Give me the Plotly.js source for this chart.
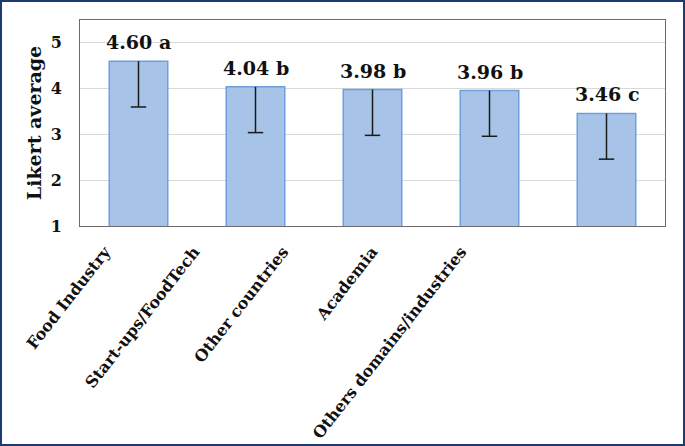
<!DOCTYPE html>
<html>
<head>
<meta charset="utf-8">
<script src="https://cdn.plot.ly/plotly-3.0.1.min.js"></script>
<style>
  html, body { margin: 0; padding: 0; background: #ffffff; }
  #frame { width: 685px; height: 446px; box-sizing: border-box; border: 2px solid #1d3a72; background: #ffffff; }
  #chart { width: 681px; height: 442px; }
</style>
</head>
<body>
<div id="frame"><div id="chart"></div></div>
<script>
// ---- data ----
var categories = ["Food Industry", "Start-ups/FoodTech", "Other countries", "Academia", "Others domains/industries"];
var means = [4.60, 4.04, 3.98, 3.96, 3.46];
var errMinus = [1.0, 1.0, 1.0, 1.0, 1.0];
var letters = ["a", "b", "b", "b", "c"];
var yTicks = [1, 2, 3, 4, 5];

// ---- derived ----
var zeros = means.map(function () { return 0; });
var capY = means.map(function (m, i) { return m - errMinus[i]; });
var labelIdx = categories.map(function (c, i) { return i; });

var serif = "DejaVu Serif, Georgia, serif";

var barTrace = {
  type: "bar",
  x: categories,
  y: means,
  base: 0,
  marker: { color: "#a7c3e7", line: { color: "#6d9fd9", width: 1.5 } },
  error_y: { type: "data", symmetric: false, array: zeros, arrayminus: errMinus, width: 0, color: "#1a1a1a", thickness: 1.5 },
  hoverinfo: "x+y",
  showlegend: false
};

var capTrace = {
  type: "scatter",
  mode: "markers",
  x: categories,
  y: capY,
  marker: { symbol: "line-ew", size: 11, line: { color: "#1a1a1a", width: 1.5 } },
  hoverinfo: "skip",
  showlegend: false
};

var annotations = categories.map(function (c, i) {
  return {
    x: c, y: means[i], xref: "x", yref: "y",
    text: means[i].toFixed(2) + " " + letters[i],
    showarrow: false, yanchor: "bottom", yshift: 6,
    font: { family: serif, size: 19, color: "#111111", weight: "bold" }
  };
});

var layout = {
  width: 681, height: 442,
  margin: { l: 78, r: 18, t: 18, b: 218 },
  paper_bgcolor: "#ffffff",
  plot_bgcolor: "#ffffff",
  bargap: 0.5,
  showlegend: false,
  xaxis: {
    type: "category",
    range: [-0.5, 4.5],
    showticklabels: false,
    ticks: "",
    showline: true, mirror: true, linecolor: "#6b6b6b", linewidth: 1,
    showgrid: false, zeroline: false, fixedrange: true
  },
  xaxis2: {
    overlaying: "x", anchor: "y", side: "bottom",
    type: "linear",
    range: [-0.281, 6.292],
    tickvals: labelIdx,
    ticktext: categories,
    tickangle: -52,
    ticks: "outside", ticklen: 9, tickcolor: "rgba(0,0,0,0)",
    tickfont: { family: serif, size: 16, color: "#111111", weight: "bold" },
    showline: false, showgrid: false, zeroline: false, fixedrange: true
  },
  yaxis: {
    range: [1, 5.5],
    tickvals: yTicks,
    ticks: "outside", ticklen: 14, tickcolor: "rgba(0,0,0,0)",
    tickfont: { family: serif, size: 16, color: "#111111", weight: "bold" },
    showline: true, mirror: true, linecolor: "#6b6b6b", linewidth: 1,
    showgrid: true, gridcolor: "#d9d9d9", gridwidth: 1,
    zeroline: false, fixedrange: true,
    title: { text: "Likert average", standoff: 4, font: { family: serif, size: 19, color: "#111111", weight: "bold" } }
  },
  annotations: annotations
};

// invisible trace so the label axis (xaxis2) is drawn
var axisTrace = {
  type: "scatter", mode: "markers", x: labelIdx, y: means, xaxis: "x2", yaxis: "y",
  marker: { opacity: 0 }, hoverinfo: "skip", showlegend: false
};

Plotly.newPlot("chart", [barTrace, capTrace, axisTrace], layout, { displayModeBar: false, staticPlot: true });
</script>
</body>
</html>
